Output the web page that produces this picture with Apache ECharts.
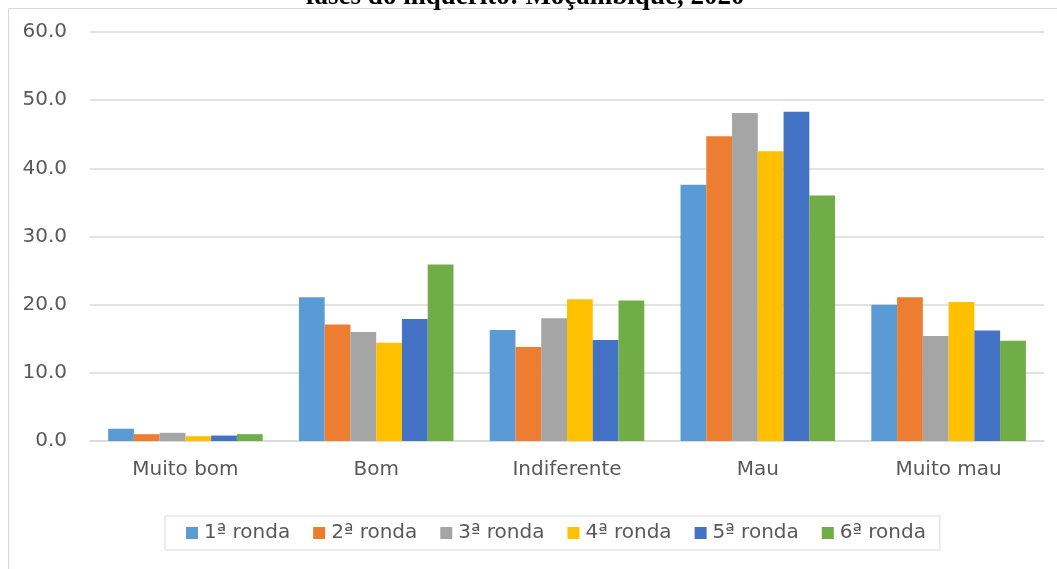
<!DOCTYPE html>
<html>
<head>
<meta charset="utf-8">
<script src="https://cdn.jsdelivr.net/npm/echarts@6/dist/echarts.min.js"></script>
<style>
html,body{margin:0;padding:0;background:#fff;}
#chart{width:1057px;height:569px;}
</style>
</head>
<body>
<div id="chart"></div>
<script>
const titleText = 'fases do inquérito: Moçambique, 2020';
const categories = ['Muito bom', 'Bom', 'Indiferente', 'Mau', 'Muito mau'];
const seriesNames = ['1ª ronda', '2ª ronda', '3ª ronda', '4ª ronda', '5ª ronda', '6ª ronda'];
const ronda1 = [1.8, 21.1, 16.3, 37.6, 20.0];
const ronda2 = [1.0, 17.1, 13.8, 44.7, 21.1];
const ronda3 = [1.2, 16.0, 18.0, 48.1, 15.4];
const ronda4 = [0.7, 14.4, 20.8, 42.5, 20.4];
const ronda5 = [0.8, 17.9, 14.8, 48.3, 16.2];
const ronda6 = [1.0, 25.9, 20.6, 36.0, 14.7];
const colors = ['#5B9BD5', '#ED7D31', '#A5A5A5', '#FFC000', '#4472C4', '#70AD47'];

const allData = [ronda1, ronda2, ronda3, ronda4, ronda5, ronda6];
const chart = echarts.init(document.getElementById('chart'));
const axisFont = 'DejaVu Sans';
chart.setOption({
  animation: false,
  color: colors,
  graphic: [
    {
      type: 'rect', z: 0, silent: true,
      shape: {x: 8.5, y: 8.5, width: 1100, height: 600},
      style: {fill: 'none', stroke: '#d9d9d9', lineWidth: 1}
    },
    {
      type: 'text', z: 10, silent: true,
      x: 525, y: 11,
      style: {
        text: titleText,
        font: 'bold 27px "Liberation Serif"',
        fill: '#000',
        textAlign: 'center',
        textVerticalAlign: 'bottom'
      }
    }
  ],
  grid: {left: 90, right: 13, top: 32, bottom: 128, containLabel: false},
  legend: {
    data: seriesNames,
    left: 165, top: 516,
    padding: [7, 14, 7, 21],
    borderColor: '#d9d9d9', borderWidth: 1,
    itemWidth: 12, itemHeight: 12, itemGap: 23,
    icon: 'rect',
    textStyle: {fontFamily: axisFont, fontSize: 20, color: '#595959', padding: [0, 0, 0, 1]}
  },
  xAxis: {
    type: 'category',
    data: categories,
    axisLine: {lineStyle: {color: '#d9d9d9', width: 1.5}},
    axisTick: {show: false},
    axisLabel: {fontFamily: axisFont, fontSize: 20, color: '#595959', margin: 19}
  },
  yAxis: {
    type: 'value',
    min: 0, max: 60, interval: 10,
    axisLine: {show: false},
    axisTick: {show: false},
    splitLine: {lineStyle: {color: '#d9d9d9', width: 1.5}},
    axisLabel: {fontFamily: axisFont, fontSize: 20, color: '#595959', margin: 23,
      formatter: v => v.toFixed(1)}
  },
  series: seriesNames.map((n, i) => ({
    name: n,
    type: 'bar',
    data: allData[i],
    barGap: '0%',
    barCategoryGap: '19%',
    itemStyle: {color: colors[i]}
  }))
});
</script>
</body>
</html>
